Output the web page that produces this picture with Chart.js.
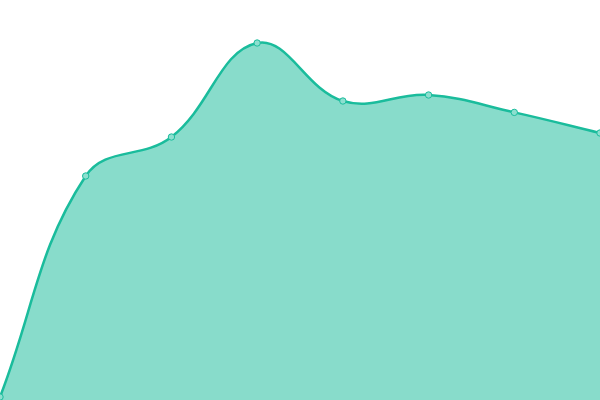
<!DOCTYPE html>
<html>
<head>
<meta charset="utf-8">
<script src="https://cdn.jsdelivr.net/npm/chart.js@4"></script>
<style>
html,body{margin:0;padding:0;background:#fff;}
#wrap{width:600px;height:400px;}
</style>
</head>
<body>
<div id="wrap"><canvas id="c"></canvas></div>
<script>
const categories = ["1","2","3","4","5","6","7","8"];
const values = [0.75, 56, 65.75, 89.25, 74.75, 76.25, 71.9, 66.75];
const yMin = 0;
const yMax = 100;

new Chart(document.getElementById('c'), {
  type: 'line',
  data: {
    labels: categories,
    datasets: [{
      data: values,
      borderColor: '#1abc9c',
      backgroundColor: 'rgba(26,188,156,0.52)',
      pointBackgroundColor: '#8ddfcf',
      pointBorderColor: '#1abc9c',
      pointRadius: 3.2,
      pointBorderWidth: 1,
      borderWidth: 2.5,
      tension: 0.4,
      fill: true
    }]
  },
  options: {
    responsive: true,
    maintainAspectRatio: false,
    animation: false,
    layout: { padding: 0, autoPadding: false },
    plugins: { legend: { display: false }, tooltip: { enabled: false } },
    scales: {
      x: { display: false },
      y: { display: false, min: yMin, max: yMax }
    }
  }
});
</script>
</body>
</html>
